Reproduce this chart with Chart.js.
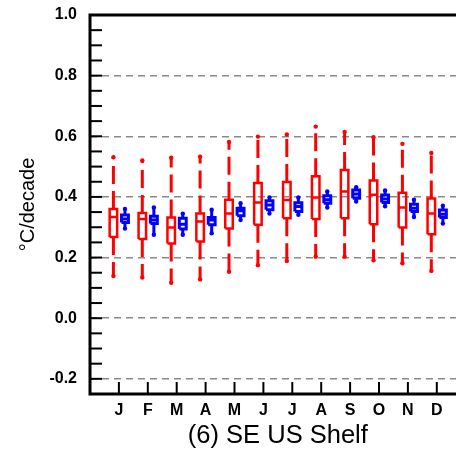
<!DOCTYPE html>
<html>
<head>
<meta charset="utf-8">
<script src="https://cdn.jsdelivr.net/npm/chart.js@4.4.1/dist/chart.umd.min.js"></script>
<style>
  html, body { margin: 0; padding: 0; background: #fff; overflow: hidden; }
  #wrap { width: 480px; height: 454px; }
</style>
</head>
<body>
<div id="wrap"><canvas id="c" width="480" height="454"></canvas></div>
<script>
// ---- Data ----
const months = ['J','F','M','A','M','J','J','A','S','O','N','D'];

// Red series (box plot statistics)
const redMin = [0.139, 0.134, 0.117, 0.128, 0.153, 0.175, 0.189, 0.203, 0.203, 0.191, 0.181, 0.156];
const redQ1  = [0.268, 0.261, 0.246, 0.253, 0.296, 0.308, 0.330, 0.327, 0.330, 0.310, 0.299, 0.277];
const redMed = [0.334, 0.327, 0.299, 0.319, 0.345, 0.382, 0.390, 0.398, 0.418, 0.407, 0.365, 0.345];
const redQ3  = [0.360, 0.347, 0.332, 0.345, 0.391, 0.446, 0.449, 0.468, 0.489, 0.454, 0.414, 0.395];
const redMax = [0.531, 0.520, 0.529, 0.533, 0.581, 0.599, 0.606, 0.632, 0.614, 0.597, 0.575, 0.545];

// Blue series (box plot statistics)
const blueMin = [0.296, 0.275, 0.275, 0.280, 0.324, 0.345, 0.341, 0.365, 0.385, 0.369, 0.334, 0.312];
const blueQ1  = [0.316, 0.312, 0.294, 0.308, 0.338, 0.358, 0.352, 0.379, 0.396, 0.382, 0.352, 0.332];
const blueMed = [0.327, 0.324, 0.310, 0.324, 0.354, 0.373, 0.368, 0.391, 0.410, 0.393, 0.363, 0.343];
const blueQ3  = [0.340, 0.336, 0.330, 0.332, 0.363, 0.387, 0.381, 0.404, 0.423, 0.406, 0.376, 0.357];
const blueMax = [0.360, 0.365, 0.345, 0.358, 0.379, 0.398, 0.398, 0.418, 0.432, 0.421, 0.391, 0.371];

// Tick values / labels
const yMajorValues = [-0.2, 0.0, 0.2, 0.4, 0.6, 0.8, 1.0];
const yTickLabels  = ['-0.2', '0.0', '0.2', '0.4', '0.6', '0.8', '1.0'];
const yMinorValues = [-0.25, -0.2, -0.15, -0.1, -0.05, 0.0, 0.05, 0.1, 0.15, 0.2, 0.25, 0.3, 0.35, 0.4,
                      0.45, 0.5, 0.55, 0.6, 0.65, 0.7, 0.75, 0.8, 0.85, 0.9, 0.95, 1.0];
const xTickValues  = [1, 2, 3, 4, 5, 6, 7, 8, 9, 10, 11, 12];

// ---- Build datasets ----
const RED = '#ff0000', BLUE = '#0000ff';
const redOff = -0.19, blueOff = 0.21;
const redHW = 0.13, blueHW = 0.12;

function whiskers(mins, q1s, q3s, maxs, off) {
  const d = [];
  xTickValues.forEach((m, i) => {
    const x = m + off;
    d.push({x, y: q3s[i]}, {x, y: maxs[i]}, {x, y: null});
    d.push({x, y: q1s[i]}, {x, y: mins[i]}, {x, y: null});
  });
  return d;
}
function boxes(q1s, meds, q3s, off, hw) {
  const d = [];
  xTickValues.forEach((m, i) => {
    const x = m + off;
    d.push({x: x - hw, y: q1s[i]}, {x: x + hw, y: q1s[i]}, {x: x + hw, y: q3s[i]},
           {x: x - hw, y: q3s[i]}, {x: x - hw, y: q1s[i]}, {x, y: null});
    d.push({x: x - hw, y: meds[i]}, {x: x + hw, y: meds[i]}, {x, y: null});
  });
  return d;
}
function caps(mins, maxs, off) {
  const d = [];
  xTickValues.forEach((m, i) => {
    d.push({x: m + off, y: mins[i]}, {x: m + off, y: maxs[i]});
  });
  return d;
}

const lineBase = { type: 'line', pointRadius: 0, fill: false, tension: 0, spanGaps: false,
                   borderJoinStyle: 'miter', borderCapStyle: 'butt' };

const datasets = [
  Object.assign({}, lineBase, { data: whiskers(redMin, redQ1, redQ3, redMax, redOff),
    borderColor: RED, borderWidth: 3, borderDash: [18, 7] }),
  Object.assign({}, lineBase, { data: boxes(redQ1, redMed, redQ3, redOff, redHW),
    borderColor: RED, borderWidth: 2.5 }),
  { type: 'scatter', data: caps(redMin, redMax, redOff), pointStyle: 'circle',
    pointRadius: 2.2, backgroundColor: RED, borderColor: RED, borderWidth: 0 },
  Object.assign({}, lineBase, { data: whiskers(blueMin, blueQ1, blueQ3, blueMax, blueOff),
    borderColor: BLUE, borderWidth: 3 }),
  Object.assign({}, lineBase, { data: boxes(blueQ1, blueMed, blueQ3, blueOff, blueHW),
    borderColor: BLUE, borderWidth: 3 }),
  { type: 'scatter', data: caps(blueMin, blueMax, blueOff), pointStyle: 'circle',
    pointRadius: 2.2, backgroundColor: BLUE, borderColor: BLUE, borderWidth: 0 }
];

const FONT = "'Liberation Sans', Arial, Helvetica, sans-serif";

function isMajor(v) {
  return yMajorValues.some(m => Math.abs(m - v) < 1e-6);
}

const frameTicks = {
  id: 'frameTicks',
  afterDraw(chart) {
    const {ctx, chartArea: a, scales} = chart;
    ctx.save();
    ctx.strokeStyle = '#000';
    ctx.lineWidth = 2;
    // y tick marks (inward)
    scales.y.ticks.forEach(t => {
      const py = scales.y.getPixelForValue(t.value);
      ctx.beginPath();
      ctx.moveTo(a.left, py);
      ctx.lineTo(a.left + 12, py);
      ctx.stroke();
    });
    // x tick marks (inward from bottom)
    scales.x.ticks.forEach(t => {
      const px = scales.x.getPixelForValue(t.value);
      ctx.beginPath();
      ctx.moveTo(px, a.bottom);
      ctx.lineTo(px, a.bottom - 12);
      ctx.stroke();
    });
    // frame
    ctx.lineWidth = 3;
    ctx.strokeRect(a.left, a.top, a.right - a.left, a.bottom - a.top);
    ctx.restore();
  }
};

new Chart(document.getElementById('c'), {
  data: { datasets },
  options: {
    responsive: false,
    animation: false,
    events: [],
    layout: { padding: { top: 15, right: 14.3, left: 0, bottom: 0 } },
    plugins: { legend: { display: false }, tooltip: { enabled: false }, title: { display: false } },
    scales: {
      x: {
        type: 'linear',
        position: 'bottom',
        min: 0, max: 13,
        afterFit(s) { s.height = 60; s.paddingLeft = 0; s.paddingRight = 0; },
        afterBuildTicks(s) { s.ticks = xTickValues.map(v => ({value: v})); },
        grid: { display: false, drawTicks: false },
        border: { display: false },
        ticks: {
          autoSkip: false, maxRotation: 0, padding: 7, color: '#000',
          font: { family: FONT, size: 16, weight: 'bold' },
          callback(v) { const i = xTickValues.indexOf(v); return i >= 0 ? months[i] : ''; }
        },
        title: { display: true, text: '(6) SE US Shelf', color: '#000',
                 font: { family: FONT, size: 25.5 }, padding: { top: 0, bottom: 3 } }
      },
      y: {
        type: 'linear',
        position: 'left',
        min: -0.25, max: 1.0,
        afterFit(s) { s.width = 90; s.paddingTop = 0; s.paddingBottom = 0; },
        afterBuildTicks(s) { s.ticks = yMinorValues.map(v => ({value: v})); },
        grid: {
          drawTicks: false,
          lineWidth: 1.5,
          color(ctx) {
            const v = ctx.tick ? ctx.tick.value : null;
            if (v === null) return 'rgba(0,0,0,0)';
            return (isMajor(v) && Math.abs(v - 1.0) > 1e-6) ? '#8a8a8a' : 'rgba(0,0,0,0)';
          }
        },
        border: { display: false, dash: [7, 5] },
        ticks: {
          autoSkip: false, padding: 13, color: '#000',
          font: { family: FONT, size: 16, weight: 'bold' },
          callback(v) {
            const i = yMajorValues.findIndex(m => Math.abs(m - v) < 1e-6);
            return i >= 0 ? yTickLabels[i] : '';
          }
        },
        title: { display: true, text: '°C/decade', color: '#000',
                 font: { family: FONT, size: 20 }, padding: { top: 16, bottom: 0 } }
      }
    }
  },
  plugins: [frameTicks]
});
</script>
</body>
</html>
